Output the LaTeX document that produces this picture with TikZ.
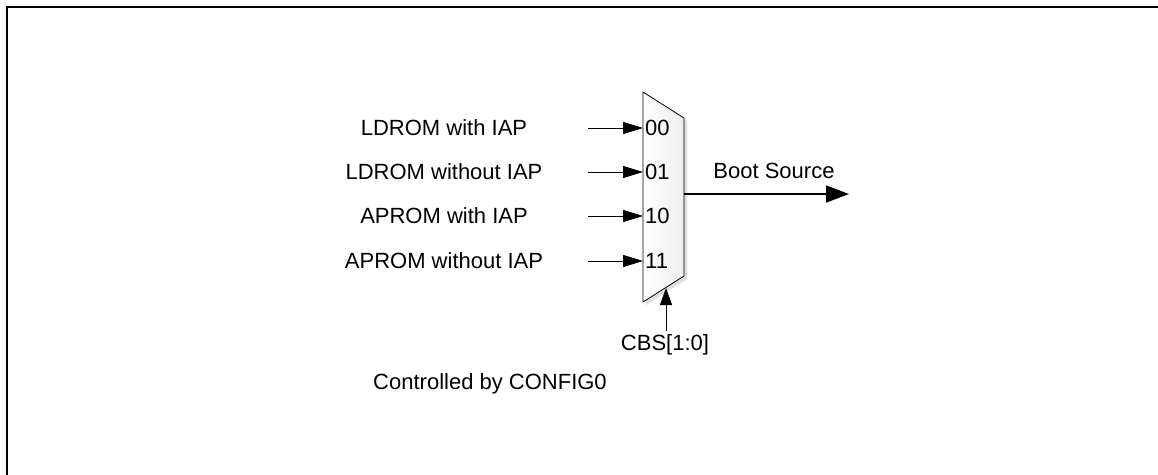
\documentclass[tikz,border=0pt]{standalone}
\usepackage{fontspec}
\setmainfont{Liberation Sans}
\usetikzlibrary{arrows.meta,shadows}
\begin{document}
\begin{tikzpicture}[x=1pt,y=-1pt,
  lbl/.style={font=\fontsize{22}{24}\selectfont, inner sep=0pt, anchor=center},
  inarrow/.style={line width=1pt,-{Triangle[length=20pt,width=12pt]}},
  outarrow/.style={line width=2pt,-{Triangle[length=23pt,width=17pt]}},
  ctlarrow/.style={line width=1pt,-{Triangle[length=17pt,width=12pt]}},
  muxshape/.style={draw=black,line width=0.8pt,left color=white,right color=gray!14,
    drop shadow={shadow xshift=3pt,shadow yshift=-3pt,opacity=0.25}}
]
\useasboundingbox (0,0) rectangle (1158,474);
\draw[line width=2pt] (7,480) -- (7,7) -- (1165,7);

% multiplexer
\coordinate (mtl) at (643,92);
\coordinate (mtr) at (684,118);
\coordinate (mbr) at (684,276);
\coordinate (mbl) at (643,302);
\path[muxshape] (mtl) -- (mtr) -- (mbr) -- (mbl) -- cycle;

% input labels
\node[lbl] (l0) at (444,128) {LDROM with IAP};
\node[lbl] (l1) at (444,172) {LDROM without IAP};
\node[lbl] (l2) at (444,216) {APROM with IAP};
\node[lbl] (l3) at (444,261) {APROM without IAP};

\node[lbl,anchor=west] (s0) at (645,128) {00};
\node[lbl,anchor=west] (s1) at (645,172) {01};
\node[lbl,anchor=west] (s2) at (645,216) {10};
\node[lbl,anchor=west] (s3) at (645,261) {11};

\coordinate (a0) at (588,128);
\coordinate (a1) at (588,172);
\coordinate (a2) at (588,216);
\coordinate (a3) at (588,261);
\coordinate (b0) at (643,128);
\coordinate (b1) at (643,172);
\coordinate (b2) at (643,216);
\coordinate (b3) at (643,261);
\foreach \i in {0,1,2,3} \draw[inarrow] (a\i) -- (b\i);

% output
\coordinate (oin) at (684,194);
\coordinate (oout) at (849,194);
\draw[outarrow] (oin) -- (oout);
\node[lbl] (boot) at (774,171) {Boot Source};

% control
\node[lbl] (cbs) at (665,345) {CBS[1:0]};
\coordinate (cin) at (666,331);
\coordinate (cout) at (666,288);
\draw[ctlarrow] (cin) -- (cout);
\node[lbl] (cfg) at (490,384) {Controlled by CONFIG0};
\end{tikzpicture}
\end{document}
